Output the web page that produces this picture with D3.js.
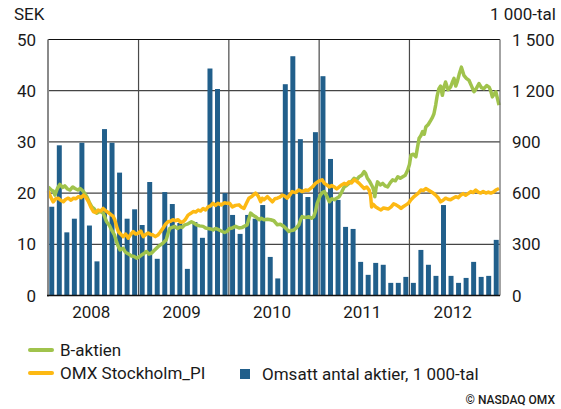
<!DOCTYPE html>
<html>
<head>
<meta charset="utf-8">
<script src="https://cdn.jsdelivr.net/npm/d3@7/dist/d3.min.js"></script>
<style>
  body { margin: 0; background: #fff; }
  text { font-family: Roboto, "DejaVu Sans", sans-serif; fill: #1a1a1a; }
</style>
</head>
<body>
<svg id="chart" width="561" height="409"></svg>
<script>
// monthly turnover, 1 000 shares
const months = d3.range(60).map(i => new Date(2008, i, 1));
const volume = [
  520, 880, 370, 450, 895, 410, 200, 975, 895, 720, 450, 505,
  413, 665, 215, 606, 536, 425, 156, 430, 338, 1330, 1210, 600,
  472, 361, 472, 450, 530, 226, 100, 1238, 1402, 916, 577, 957,
  1285, 800, 560, 402, 390, 197, 121, 191, 180, 74, 74, 109,
  74, 267, 180, 115, 530, 115, 74, 103, 197, 109, 115, 326
];

const bAktien = [
  ["2008-01-02", 21.2], ["2008-01-14", 20.6], ["2008-01-22", 20.4], ["2008-01-29", 19.6],
  ["2008-02-08", 20.9], ["2008-02-18", 21.7], ["2008-03-01", 21.1], ["2008-03-09", 21.4],
  ["2008-03-20", 20.8], ["2008-03-30", 20.6], ["2008-04-10", 21.2], ["2008-04-19", 20.9],
  ["2008-05-01", 20.6], ["2008-05-10", 20.9], ["2008-05-23", 20.3], ["2008-06-06", 19.3],
  ["2008-06-16", 18.2], ["2008-06-26", 17.3], ["2008-07-06", 16.9], ["2008-07-16", 16.1],
  ["2008-07-29", 16.4], ["2008-08-11", 16.1], ["2008-08-25", 14.4], ["2008-09-05", 13.7],
  ["2008-09-14", 12.8], ["2008-09-25", 11.9], ["2008-10-04", 10.5], ["2008-10-11", 9.6],
  ["2008-10-18", 8.9], ["2008-10-31", 9.2], ["2008-11-07", 8.6], ["2008-11-14", 8.3],
  ["2008-11-25", 8.0], ["2008-12-04", 7.7], ["2008-12-14", 7.6], ["2008-12-24", 7.3],
  ["2009-01-05", 7.6], ["2009-01-13", 7.9], ["2009-01-23", 8.2], ["2009-02-02", 8.6],
  ["2009-02-12", 8.1], ["2009-02-23", 8.3], ["2009-03-05", 8.8], ["2009-03-14", 9.2],
  ["2009-03-25", 9.7], ["2009-04-09", 10.2], ["2009-04-23", 10.9], ["2009-04-30", 12.1],
  ["2009-05-07", 13.1], ["2009-05-17", 13.3], ["2009-05-27", 13.5], ["2009-06-07", 13.1],
  ["2009-06-17", 13.4], ["2009-06-26", 13.3], ["2009-07-07", 13.8], ["2009-07-20", 14.0],
  ["2009-08-03", 14.4], ["2009-08-12", 14.2], ["2009-08-23", 13.8], ["2009-09-05", 13.6],
  ["2009-09-19", 13.5], ["2009-09-29", 13.2], ["2009-10-09", 13.1], ["2009-10-19", 13.0],
  ["2009-10-29", 12.8], ["2009-11-08", 13.1], ["2009-11-18", 12.9], ["2009-12-01", 12.6],
  ["2009-12-15", 12.3], ["2009-12-24", 12.5], ["2010-01-04", 13.1], ["2010-01-15", 13.2],
  ["2010-01-28", 13.5], ["2010-02-11", 13.2], ["2010-02-24", 13.3], ["2010-03-08", 13.6],
  ["2010-03-16", 13.8], ["2010-03-23", 15.0], ["2010-03-30", 16.1], ["2010-04-08", 15.7],
  ["2010-04-19", 15.4], ["2010-05-03", 14.8], ["2010-05-12", 15.1], ["2010-05-23", 14.8],
  ["2010-06-06", 14.9], ["2010-06-19", 14.8], ["2010-07-02", 14.6], ["2010-07-16", 13.8],
  ["2010-07-28", 13.9], ["2010-08-11", 13.5], ["2010-08-22", 13.0], ["2010-09-01", 12.5],
  ["2010-09-11", 12.7], ["2010-09-21", 12.8], ["2010-10-01", 13.2], ["2010-10-11", 13.8],
  ["2010-10-18", 14.8], ["2010-10-24", 15.4], ["2010-11-07", 15.2], ["2010-11-20", 15.4],
  ["2010-12-01", 15.1], ["2010-12-10", 15.4], ["2010-12-17", 16.4], ["2010-12-24", 18.0],
  ["2011-01-06", 19.6], ["2011-01-14", 20.1], ["2011-01-22", 20.3], ["2011-02-01", 19.4],
  ["2011-02-11", 18.3], ["2011-02-21", 18.9], ["2011-03-03", 18.7], ["2011-03-13", 19.0],
  ["2011-03-23", 19.3], ["2011-04-02", 20.2], ["2011-04-12", 21.2], ["2011-04-22", 21.5],
  ["2011-05-02", 21.9], ["2011-05-12", 22.3], ["2011-05-22", 22.9], ["2011-06-02", 22.6],
  ["2011-06-12", 23.2], ["2011-06-22", 23.5], ["2011-07-02", 24.2], ["2011-07-08", 23.8],
  ["2011-07-15", 22.9], ["2011-07-25", 22.2], ["2011-08-05", 21.2], ["2011-08-10", 20.4],
  ["2011-08-14", 19.3], ["2011-08-19", 21.0], ["2011-08-25", 22.2], ["2011-09-05", 21.6],
  ["2011-09-15", 21.9], ["2011-09-25", 21.4], ["2011-10-05", 21.2], ["2011-10-15", 22.0],
  ["2011-10-25", 22.6], ["2011-11-05", 22.4], ["2011-11-15", 23.2], ["2011-11-25", 22.9],
  ["2011-12-05", 23.2], ["2011-12-15", 23.5], ["2011-12-25", 24.5], ["2012-01-01", 25.6],
  ["2012-01-07", 27.4], ["2012-01-17", 27.6], ["2012-01-27", 27.1], ["2012-02-02", 28.8],
  ["2012-02-09", 30.7], ["2012-02-16", 31.2], ["2012-02-23", 32.0], ["2012-03-01", 31.5],
  ["2012-03-07", 32.9], ["2012-03-17", 33.4], ["2012-03-27", 34.2], ["2012-04-03", 34.8],
  ["2012-04-09", 35.5], ["2012-04-16", 37.2], ["2012-04-22", 39.0], ["2012-04-29", 40.4],
  ["2012-05-06", 40.9], ["2012-05-13", 39.1], ["2012-05-19", 40.6], ["2012-05-26", 41.7],
  ["2012-06-05", 40.2], ["2012-06-15", 40.7], ["2012-06-22", 41.6], ["2012-06-29", 42.4],
  ["2012-07-06", 40.9], ["2012-07-12", 41.7], ["2012-07-20", 43.2], ["2012-07-29", 44.6],
  ["2012-08-08", 43.0], ["2012-08-18", 42.4], ["2012-08-29", 42.0], ["2012-09-08", 40.9],
  ["2012-09-18", 39.8], ["2012-09-28", 40.5], ["2012-10-08", 41.4], ["2012-10-18", 40.6],
  ["2012-10-28", 40.4], ["2012-11-08", 41.0], ["2012-11-18", 40.7], ["2012-11-25", 39.9],
  ["2012-12-01", 38.8], ["2012-12-08", 39.3], ["2012-12-15", 39.8], ["2012-12-22", 38.4],
  ["2012-12-28", 37.2]
];

const omxPI = [
  ["2008-01-02", 20.4], ["2008-01-12", 19.2], ["2008-01-22", 18.3], ["2008-02-01", 18.9],
  ["2008-02-11", 19.0], ["2008-02-21", 18.6], ["2008-03-03", 18.3], ["2008-03-13", 18.8],
  ["2008-03-23", 19.0], ["2008-04-03", 18.6], ["2008-04-13", 19.0], ["2008-04-23", 18.9],
  ["2008-05-03", 19.3], ["2008-05-13", 19.1], ["2008-05-23", 19.6], ["2008-06-03", 19.1],
  ["2008-06-13", 18.3], ["2008-06-23", 17.2], ["2008-07-02", 16.4], ["2008-07-12", 16.2],
  ["2008-07-22", 16.7], ["2008-08-01", 16.5], ["2008-08-11", 17.0], ["2008-08-18", 16.7],
  ["2008-08-25", 16.4], ["2008-09-04", 16.1], ["2008-09-14", 15.7], ["2008-09-20", 15.5],
  ["2008-09-27", 14.8], ["2008-10-04", 13.5], ["2008-10-11", 12.5], ["2008-10-20", 12.0],
  ["2008-10-31", 11.5], ["2008-11-10", 12.0], ["2008-11-20", 11.2], ["2008-11-30", 11.9],
  ["2008-12-10", 12.5], ["2008-12-20", 12.0], ["2008-12-31", 12.2], ["2009-01-10", 12.6],
  ["2009-01-20", 11.5], ["2009-01-30", 11.9], ["2009-02-09", 12.2], ["2009-02-19", 11.9],
  ["2009-03-01", 11.8], ["2009-03-10", 11.5], ["2009-03-20", 11.8], ["2009-03-30", 12.4],
  ["2009-04-09", 13.1], ["2009-04-20", 13.9], ["2009-04-30", 14.4], ["2009-05-10", 14.5],
  ["2009-05-20", 14.8], ["2009-05-30", 14.6], ["2009-06-10", 14.8], ["2009-06-20", 14.3],
  ["2009-06-30", 14.4], ["2009-07-10", 14.9], ["2009-07-20", 15.7], ["2009-07-30", 16.0],
  ["2009-08-10", 16.4], ["2009-08-20", 16.3], ["2009-08-30", 16.7], ["2009-09-09", 16.5],
  ["2009-09-19", 17.0], ["2009-09-29", 16.7], ["2009-10-09", 17.3], ["2009-10-19", 17.5],
  ["2009-10-29", 18.0], ["2009-11-08", 17.6], ["2009-11-18", 18.0], ["2009-12-01", 17.7],
  ["2009-12-15", 18.1], ["2009-12-24", 18.0], ["2010-01-04", 18.0], ["2010-01-15", 17.3],
  ["2010-01-28", 17.6], ["2010-02-11", 17.7], ["2010-02-20", 17.3], ["2010-03-03", 17.0],
  ["2010-03-13", 18.0], ["2010-03-23", 19.0], ["2010-04-05", 19.4], ["2010-04-19", 20.0],
  ["2010-04-30", 19.4], ["2010-05-10", 18.3], ["2010-05-16", 19.0], ["2010-05-23", 18.7],
  ["2010-06-06", 19.3], ["2010-06-16", 18.8], ["2010-06-26", 18.3], ["2010-07-06", 18.9],
  ["2010-07-16", 19.0], ["2010-07-26", 19.2], ["2010-08-05", 19.6], ["2010-08-15", 19.4],
  ["2010-08-25", 19.0], ["2010-09-04", 19.6], ["2010-09-14", 20.3], ["2010-09-27", 20.1],
  ["2010-10-11", 20.6], ["2010-10-24", 20.3], ["2010-11-07", 20.6], ["2010-11-17", 20.5],
  ["2010-11-27", 20.9], ["2010-12-07", 21.3], ["2010-12-17", 21.9], ["2011-01-02", 22.4],
  ["2011-01-13", 22.6], ["2011-01-22", 21.9], ["2011-02-01", 21.6], ["2011-02-11", 21.2],
  ["2011-02-21", 21.5], ["2011-03-03", 21.2], ["2011-03-13", 20.8], ["2011-03-23", 21.2],
  ["2011-04-02", 21.6], ["2011-04-12", 21.9], ["2011-04-22", 21.7], ["2011-05-02", 22.2],
  ["2011-05-12", 22.0], ["2011-05-22", 22.6], ["2011-06-02", 22.3], ["2011-06-12", 21.9],
  ["2011-06-22", 21.4], ["2011-07-02", 20.9], ["2011-07-12", 21.2], ["2011-07-22", 20.6],
  ["2011-07-28", 19.4], ["2011-08-01", 17.3], ["2011-08-08", 17.8], ["2011-08-18", 17.3],
  ["2011-08-28", 17.0], ["2011-09-08", 16.7], ["2011-09-18", 17.1], ["2011-09-28", 17.0],
  ["2011-10-08", 16.9], ["2011-10-19", 17.3], ["2011-10-29", 17.9], ["2011-11-08", 17.7],
  ["2011-11-18", 17.4], ["2011-11-28", 17.0], ["2011-12-08", 17.4], ["2011-12-18", 17.7],
  ["2011-12-28", 18.0], ["2012-01-07", 18.7], ["2012-01-17", 19.2], ["2012-01-27", 19.6],
  ["2012-02-06", 20.0], ["2012-02-16", 20.6], ["2012-02-26", 20.5], ["2012-03-07", 20.9],
  ["2012-03-17", 20.6], ["2012-03-27", 20.3], ["2012-04-06", 20.0], ["2012-04-16", 19.6],
  ["2012-04-26", 19.1], ["2012-05-06", 18.3], ["2012-05-16", 18.6], ["2012-05-26", 19.0],
  ["2012-06-05", 18.8], ["2012-06-15", 18.7], ["2012-06-25", 19.0], ["2012-07-06", 19.3],
  ["2012-07-16", 19.1], ["2012-07-26", 19.6], ["2012-08-05", 19.9], ["2012-08-15", 19.6],
  ["2012-08-25", 19.9], ["2012-09-05", 20.3], ["2012-09-15", 20.1], ["2012-09-25", 20.6],
  ["2012-10-05", 20.2], ["2012-10-15", 20.0], ["2012-10-25", 20.3], ["2012-11-05", 20.0],
  ["2012-11-15", 20.2], ["2012-11-25", 20.0], ["2012-12-05", 20.2], ["2012-12-15", 20.6],
  ["2012-12-28", 20.9]
];

const years = ["2008", "2009", "2010", "2011", "2012"];
const sekTicks = [0, 10, 20, 30, 40, 50];
const volTicks = [0, 300, 600, 900, 1200, 1500];

const colors = { b: "#a0c34c", omx: "#fdb913", bars: "#215f8b" };

const svg = d3.select("svg#chart");
const plot = { left: 48, right: 500, top: 39.5, bottom: 295.5 };

const parse = d3.timeParse("%Y-%m-%d");
const x = d3.scaleTime()
  .domain([new Date(2008, 0, 1), new Date(2013, 0, 1)])
  .range([plot.left, plot.right]);
const xBand = d3.scaleBand()
  .domain(months.map(d => +d))
  .range([plot.left, plot.right])
  .paddingInner(0.34)
  .paddingOuter(0.17);
const y = d3.scaleLinear().domain([0, 50]).range([plot.bottom, plot.top]);
const yVol = d3.scaleLinear().domain([0, 1500]).range([plot.bottom, plot.top]);

const g = {
  grid: svg.append("g"),
  bars: svg.append("g"),
  lines: svg.append("g"),
  frame: svg.append("g"),
  axes: svg.append("g"),
  legend: svg.append("g")
};

// horizontal grid
g.grid.selectAll("line.h")
  .data(sekTicks.filter(d => d > 0 && d < 50))
  .enter().append("line")
  .attr("x1", plot.left).attr("x2", plot.right)
  .attr("y1", d => y(d)).attr("y2", d => y(d))
  .attr("stroke", "#454545").attr("stroke-width", 1.3);

// year dividers
g.grid.selectAll("line.v")
  .data(years.slice(1))
  .enter().append("line")
  .attr("x1", d => x(new Date(+d, 0, 1))).attr("x2", d => x(new Date(+d, 0, 1)))
  .attr("y1", plot.top).attr("y2", plot.bottom)
  .attr("stroke", "#4a4a4a").attr("stroke-width", 1.2);

// volume bars
g.bars.selectAll("rect")
  .data(months)
  .enter().append("rect")
  .attr("x", d => xBand(+d))
  .attr("width", xBand.bandwidth())
  .attr("y", (d, i) => yVol(volume[i]))
  .attr("height", (d, i) => plot.bottom - yVol(volume[i]))
  .attr("fill", colors.bars);

const line = d3.line()
  .x(d => x(parse(d[0])))
  .y(d => y(d[1]));

g.lines.append("path")
  .attr("d", line(bAktien))
  .attr("fill", "none")
  .attr("stroke", colors.b)
  .attr("stroke-width", 3.5)
  .attr("stroke-linejoin", "round");

g.lines.append("path")
  .attr("d", line(omxPI))
  .attr("fill", "none")
  .attr("stroke", colors.omx)
  .attr("stroke-width", 3.5)
  .attr("stroke-linejoin", "round");

// frame
g.frame.append("line")
  .attr("x1", plot.left).attr("x2", plot.right)
  .attr("y1", plot.top).attr("y2", plot.top)
  .attr("stroke", "#111").attr("stroke-width", 1.2);
g.frame.append("line")
  .attr("x1", plot.right).attr("x2", plot.right)
  .attr("y1", plot.top).attr("y2", plot.bottom)
  .attr("stroke", "#666").attr("stroke-width", 1.2);
g.frame.append("line")
  .attr("x1", plot.left).attr("x2", plot.left)
  .attr("y1", plot.top).attr("y2", plot.bottom + 1)
  .attr("stroke", "#8a8a8a").attr("stroke-width", 2);
g.frame.append("line")
  .attr("x1", plot.left - 1).attr("x2", plot.right)
  .attr("y1", plot.bottom).attr("y2", plot.bottom)
  .attr("stroke", "#111").attr("stroke-width", 1.5);

// axis labels
g.axes.selectAll("text.left")
  .data(sekTicks)
  .enter().append("text")
  .attr("x", 36).attr("y", d => y(d))
  .attr("dy", "0.36em")
  .attr("text-anchor", "end")
  .style("font-size", "17px")
  .text(d => d);

g.axes.selectAll("text.right")
  .data(volTicks)
  .enter().append("text")
  .attr("x", 512).attr("y", d => yVol(d))
  .attr("dy", "0.36em")
  .style("font-size", "17px")
  .text(d => d >= 1000 ? String(d).replace(/^(\d)/, "$1 ") : d);

g.axes.selectAll("text.year")
  .data(years)
  .enter().append("text")
  .attr("x", d => (x(new Date(+d, 0, 1)) + x(new Date(+d + 1, 0, 1))) / 2 - 2)
  .attr("y", 318)
  .attr("text-anchor", "middle")
  .style("font-size", "17px")
  .text(d => d);

g.axes.append("text")
  .attr("x", 14).attr("y", 20)
  .style("font-size", "17px")
  .text("SEK");

g.axes.append("text")
  .attr("x", 556).attr("y", 20)
  .attr("text-anchor", "end")
  .style("font-size", "17px")
  .text("1 000-tal");

// legend
g.legend.append("line")
  .attr("x1", 30).attr("x2", 52).attr("y1", 350).attr("y2", 350)
  .attr("stroke", colors.b).attr("stroke-width", 4).attr("stroke-linecap", "round");
g.legend.append("text")
  .attr("x", 60).attr("y", 356)
  .style("font-size", "17px")
  .text("B-aktien");

g.legend.append("line")
  .attr("x1", 30).attr("x2", 52).attr("y1", 373).attr("y2", 373)
  .attr("stroke", colors.omx).attr("stroke-width", 4).attr("stroke-linecap", "round");
g.legend.append("text")
  .attr("x", 60).attr("y", 379)
  .style("font-size", "17px")
  .text("OMX Stockholm_PI");

g.legend.append("rect")
  .attr("x", 240).attr("y", 369).attr("width", 10).attr("height", 10)
  .attr("fill", colors.bars);
g.legend.append("text")
  .attr("x", 262).attr("y", 380)
  .style("font-size", "17px")
  .text("Omsatt antal aktier, 1 000-tal");

g.legend.append("text")
  .attr("x", 555).attr("y", 404)
  .attr("text-anchor", "end")
  .style("font-size", "12px")
  .style("font-weight", 500)
  .text("\u00a9 NASDAQ OMX");
</script>
</body>
</html>
